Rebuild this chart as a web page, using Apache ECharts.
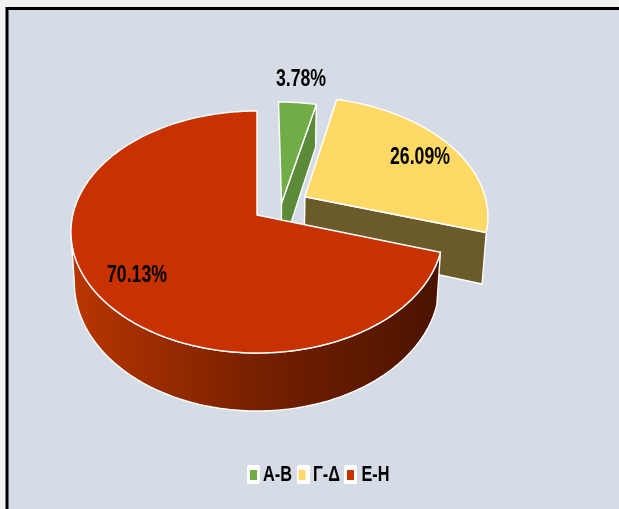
<!DOCTYPE html>
<html>
<head>
<meta charset="utf-8">
<style>html,body{margin:0;padding:0;background:#f2f2f2}#c{width:619px;height:509px}</style>
<script src="https://cdn.jsdelivr.net/npm/echarts@6/dist/echarts.min.js"></script>
</head>
<body>
<div id="c"></div>
<script>
var categories = ['Α-Β', 'Γ-Δ', 'Ε-Η'];
var shares = [3.78, 26.09, 70.13];
var labels = ['3.78%', '26.09%', '70.13%'];
var topColors = ['#70ad47', '#ffd966', '#c83200'];
var sideColors = ['#5b8a39', '#6b5a2a', '#7a2000'];
var explodeU = [0.135, 0.266, 0];
var explodeV = [-0.1, -0.157, 0];
var labelPos = [[301, 80], [420, 158], [137, 276]];
var legendTextX = [277.5, 326.5, 375.5];
var legendBoxX = [247, 297, 344];

var top3d = {ax: 257, ay: 215, f: 184.2, k: 118.6, p: 0.1405};
var bot3d = {ax: 257, ay: 265.5, f: 181, k: 126, p: 0.134};
var FONT = 'bold 22px "Liberation Sans"';
var LABEL_FONT = 'bold 23px "Liberation Sans"';
var SQUEEZE = 0.74;
var LABEL_SQUEEZE = 0.77;

function project(pl, u, v) {
  var w = 1 - pl.p * v;
  return [pl.ax + pl.f * u / w, pl.ay + pl.k * v / w];
}
function rimPoint(pl, deg, ou, ov) {
  var a = deg * Math.PI / 180;
  return project(pl, Math.sin(a) + ou, -Math.cos(a) + ov);
}
function arc(pl, from, to, ou, ov) {
  var pts = [], n = Math.max(2, Math.ceil(Math.abs(to - from)));
  for (var i = 0; i <= n; i++) pts.push(rimPoint(pl, from + (to - from) * i / n, ou, ov));
  return pts;
}
var stroke = {stroke: '#ffffff', lineWidth: 1.4, lineJoin: 'round'};
function poly(points, fill, z2) {
  return {type: 'polygon', z2: z2, shape: {points: points},
    style: Object.assign({fill: fill}, stroke)};
}
var wallGradient = {type: 'linear', x: 72, y: 0, x2: 440, y2: 0, global: true, colorStops: [
  {offset: 0, color: '#b83600'}, {offset: 0.5, color: '#772000'}, {offset: 1, color: '#4a1300'}]};

function makeRender(idx) {
  return function (params, api) {
    var total = shares.reduce(function (s, x) { return s + x; }, 0);
    var before = 0;
    for (var i = 0; i < idx; i++) before += shares[i];
    var from = before / total * 360;
    var to = from + api.value(0) / total * 360;
    var ou = explodeU[idx], ov = explodeV[idx];
    var apexT = project(top3d, ou, ov), apexB = project(bot3d, ou, ov);
    var children = [];
    if (idx < 2) {
      children.push(poly([apexT, rimPoint(top3d, to, ou, ov), rimPoint(bot3d, to, ou, ov), apexB], sideColors[idx], 1));
    } else {
      var wallEnd = 262;
      var wall = arc(top3d, from, wallEnd, ou, ov).concat(arc(bot3d, wallEnd, from, ou, ov));
      children.push(poly(wall, wallGradient, 1));
    }
    children.push(poly([apexT].concat(arc(top3d, from, to, ou, ov)), topColors[idx], 2));
    children.push({type: 'text', z2: 5, x: labelPos[idx][0], y: labelPos[idx][1], scaleX: LABEL_SQUEEZE, style: {
      text: labels[idx], x: 0, y: 0, align: 'center', verticalAlign: 'middle', font: LABEL_FONT, fill: '#000000'}});
    return {type: 'group', children: children};
  };
}

var series = categories.map(function (name, i) {
  return {
    type: 'custom', name: name, coordinateSystem: 'none', z: 2 + i,
    itemStyle: {color: topColors[i]},
    renderItem: makeRender(i), data: [[shares[i]]], silent: true, animation: false
  };
});

var graphics = [{type: 'rect', z: 0, silent: true, shape: {x: 7, y: 8.5, width: 640, height: 540},
  style: {fill: '#d6dce5', stroke: '#000000', lineWidth: 3}}];
categories.forEach(function (n, i) {
  graphics.push({type: 'rect', z: 1, silent: true, shape: {x: legendBoxX[i], y: 465, width: 13, height: 19, r: 2},
    style: {fill: '#ffffff'}});
  graphics.push({type: 'text', z: 6, silent: true, x: legendTextX[i], y: 475, scaleX: SQUEEZE,
    style: {text: n, x: 0, y: 0, align: 'center', verticalAlign: 'middle', font: FONT, fill: '#000000'}});
});

var chart = echarts.init(document.getElementById('c'));
chart.setOption({
  animation: false,
  graphic: graphics,
  legend: {
    left: 250, top: 470, itemWidth: 7, itemHeight: 10, itemGap: 41.5, padding: 0,
    selectedMode: false, icon: 'rect', formatter: function () { return ''; },
    textStyle: {fontSize: 1, color: 'transparent'},
    data: categories.map(function (n, i) {
      return {name: n, icon: 'rect', itemStyle: {color: topColors[i], borderWidth: 0}};
    })
  },
  series: series
});
</script>
</body>
</html>
